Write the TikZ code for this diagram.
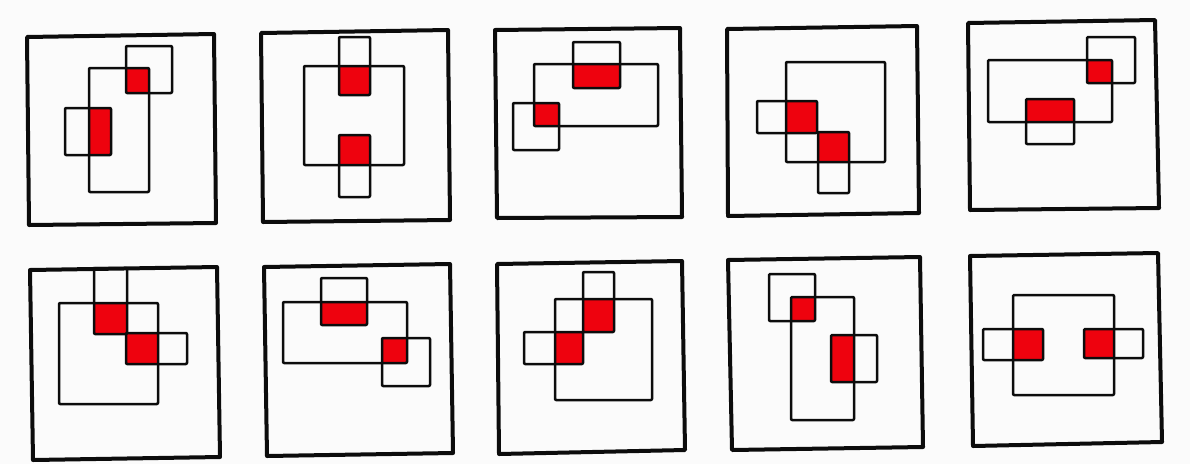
\documentclass[tikz,border=0pt]{standalone}
\definecolor{boxred}{RGB}{238,2,14}
\definecolor{paper}{RGB}{251,251,251}
\definecolor{ink}{RGB}{12,12,12}
\begin{document}
\begin{tikzpicture}[x=1pt,y=-1pt,
  outerbox/.style={draw=ink,line width=4pt,line join=round},
  innerbox/.style={draw=ink,line width=2.5pt,line join=round,rounded corners=1pt},
  hot/.style={fill=boxred}]
\fill[paper] (0,0) rectangle (1190,464);
\useasboundingbox (0,0) rectangle (1190,464);
% ---------- panel 1
\fill[hot] (126,68) rectangle (149,93);
\fill[hot] (89,108) rectangle (111,155);
\draw[innerbox] (89,68) rectangle (149,192);
\draw[innerbox] (126,46) rectangle (172,93);
\draw[innerbox] (65,108) rectangle (111,155);
\draw[outerbox] (27,37) -- (214,34) -- (216,223) -- (29,225) -- cycle;
% ---------- panel 2
\fill[hot] (339,66) rectangle (370,95);
\fill[hot] (339,135) rectangle (370,165);
\draw[innerbox] (304,66) rectangle (404,165);
\draw[innerbox] (339,37) rectangle (370,95);
\draw[innerbox] (339,135) rectangle (370,197);
\draw[outerbox] (261,33) -- (448,30) -- (450,220) -- (263,222) -- cycle;
% ---------- panel 3
\fill[hot] (573,64) rectangle (620,88);
\fill[hot] (534,103) rectangle (559,126);
\draw[innerbox] (534,64) rectangle (658,126);
\draw[innerbox] (573,42) rectangle (620,88);
\draw[innerbox] (513,103) rectangle (559,150);
\draw[outerbox] (495,30) -- (680,28) -- (682,217) -- (497,218) -- cycle;
% ---------- panel 4
\fill[hot] (786,101) rectangle (817,133);
\fill[hot] (818,132) rectangle (849,162);
\draw[innerbox] (786,62) rectangle (885,162);
\draw[innerbox] (757,101) rectangle (817,133);
\draw[innerbox] (818,132) rectangle (849,193);
\draw[outerbox] (727,29) -- (917,26) -- (919,213) -- (728,216) -- cycle;
% ---------- panel 5
\fill[hot] (1087,60) rectangle (1112,83);
\fill[hot] (1026,99) rectangle (1074,122);
\draw[innerbox] (988,60) rectangle (1112,122);
\draw[innerbox] (1087,37) rectangle (1135,83);
\draw[innerbox] (1026,99) rectangle (1074,144);
\draw[outerbox] (968,23) -- (1155,20) -- (1159,208) -- (970,210) -- cycle;
% ---------- panel 6
\fill[hot] (94,303) rectangle (127,334);
\fill[hot] (126,333) rectangle (158,364);
\draw[innerbox] (59,303) rectangle (158,404);
\draw[innerbox] (94,268) rectangle (127,334);
\draw[innerbox] (126,333) rectangle (187,364);
\draw[outerbox] (30,270) -- (217,267) -- (220,457) -- (33,460) -- cycle;
% ---------- panel 7
\fill[hot] (321,302) rectangle (367,325);
\fill[hot] (382,338) rectangle (407,363);
\draw[innerbox] (283,302) rectangle (407,363);
\draw[innerbox] (321,278) rectangle (367,325);
\draw[innerbox] (382,338) rectangle (430,386);
\draw[outerbox] (264,267) -- (450,264) -- (453,453) -- (267,456) -- cycle;
% ---------- panel 8
\fill[hot] (583,299) rectangle (614,332);
\fill[hot] (555,332) rectangle (583,364);
\draw[innerbox] (555,299) rectangle (652,400);
\draw[innerbox] (583,272) rectangle (614,332);
\draw[innerbox] (524,332) rectangle (583,364);
\draw[outerbox] (497,264) -- (682,261) -- (685,450) -- (499,454) -- cycle;
% ---------- panel 9
\fill[hot] (791,297) rectangle (815,321);
\fill[hot] (831,335) rectangle (854,382);
\draw[innerbox] (791,297) rectangle (854,420);
\draw[innerbox] (769,274) rectangle (815,321);
\draw[innerbox] (831,335) rectangle (877,382);
\draw[outerbox] (728,260) -- (920,257) -- (923,447) -- (732,450) -- cycle;
% ---------- panel 10
\fill[hot] (1013,329) rectangle (1043,360);
\fill[hot] (1084,329) rectangle (1114,358);
\draw[innerbox] (1013,295) rectangle (1114,395);
\draw[innerbox] (983,329) rectangle (1043,360);
\draw[innerbox] (1084,329) rectangle (1143,358);
\draw[outerbox] (970,256) -- (1158,253) -- (1162,442) -- (973,446) -- cycle;
\end{tikzpicture}
\end{document}
